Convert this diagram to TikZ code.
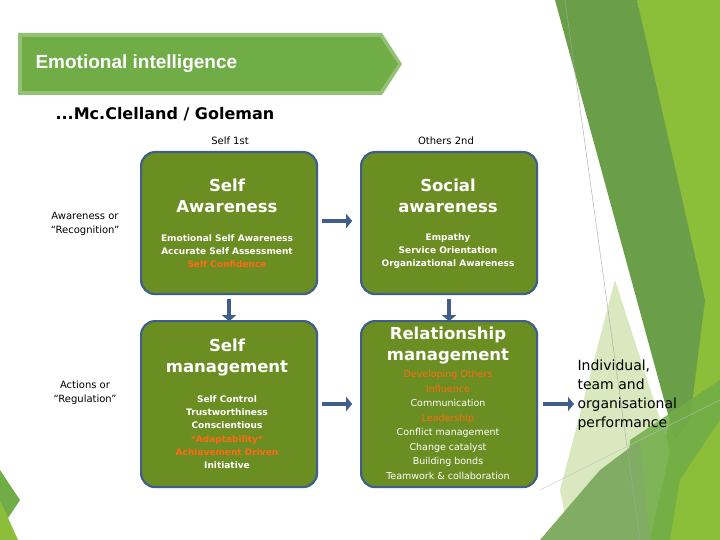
\documentclass[tikz,border=0pt]{standalone}
\usepackage{fontspec}
\setmainfont{DejaVu Sans}
\newfontfamily\arialf{Liberation Sans}
\usetikzlibrary{arrows.meta}
\definecolor{boxg}{HTML}{6B8E23}
\definecolor{boxb}{HTML}{3F5F8A}
\definecolor{orng}{HTML}{FF6A13}
\definecolor{bang}{HTML}{70AD47}
\definecolor{dkg}{HTML}{6A9E48}
\definecolor{ltg}{HTML}{8DBE3A}
\definecolor{plg}{HTML}{D5E6B8}
\tikzset{
 card/.style={draw=boxb,line width=2.2pt,fill=boxg,rounded corners=14pt,minimum width=176pt,minimum height=142pt,anchor=north west},
 ttl/.style={text=white,font=\bfseries\fontsize{16.5}{21}\selectfont,align=center},
 itm/.style={text=white,font=\bfseries\fontsize{9}{13.3}\selectfont,align=center},
 itl/.style={text=white,font=\fontsize{9.5}{14.5}\selectfont,align=center},
 flow/.style={-{Triangle[length=6pt,width=14pt]},line width=4pt,draw=boxb},
 lab/.style={font=\fontsize{10}{14}\selectfont,align=center}
}
\begin{document}
\begin{tikzpicture}[x=1pt,y=-1pt]
\useasboundingbox (0,0) rectangle (720,540);
\fill[white] (0,0) rectangle (720,540);
% right decorations
\fill[ltg] (637,0) -- (720,0) -- (720,540) -- (640,540) -- (700,300) -- cycle;
\fill[dkg] (555,0) -- (637,0) -- (705,300) -- (690,420) -- (675,440) -- cycle;
\fill[plg,opacity=0.9] (615,280) -- (670,450) -- (650,540) -- (570,540) -- (560,490) -- cycle;
\fill[bang,opacity=0.85] (630,440) -- (720,380) -- (720,540) -- (620,540) -- cycle;
\fill[ltg] (680,480) -- (720,420) -- (720,540) -- (670,540) -- cycle;
\fill[dkg!85!white] (540,540) -- (600,470) -- (640,440) -- (650,540) -- cycle;
\draw[gray!70,line width=0.4pt] (565,0) -- (640,540);
\draw[gray!50,line width=0.4pt] (540,490) -- (720,400);
% bottom-left decorations
\fill[bang] (0,470) -- (20,500) -- (0,530) -- cycle;
\fill[ltg] (0,500) -- (18,540) -- (0,540) -- cycle;
% banner
\fill[bang!75!white] (18,33) -- (382,33) -- (402,64) -- (382,95) -- (18,95) -- cycle;
\fill[bang] (22,37) -- (380,37) -- (398,64) -- (380,91) -- (22,91) -- cycle;
\node[anchor=west,text=white,font=\arialf\bfseries\fontsize{19}{22}\selectfont] (title) at (32,64) {Emotional intelligence};
\node[anchor=west,font=\bfseries\fontsize{16}{19}\selectfont] (auth) at (52,114) {...Mc.Clelland / Goleman};
% headers
\node[lab] (h1) at (230,141) {Self 1st};
\node[lab] (h2) at (446,141) {Others 2nd};
% left labels
\node[lab] (l1) at (85,224) {Awareness or\\“Recognition”};
\node[lab] (l2) at (85,393) {Actions or\\“Regulation”};
% boxes
\node[card] (sa) at (140,151) {};
\node[card] (so) at (360,151) {};
\node[card,minimum height=166pt] (sm) at (140,320) {};
\node[card,minimum height=166pt] (rm) at (360,320) {};
\node[ttl] (sat) at (227,196) {Self\\Awareness};
\node[itm] (sai) at (227,251) {Emotional Self Awareness\\Accurate Self Assessment\\\textcolor{orng}{Self Confidence}};
\node[ttl] (sot) at (448,196) {Social\\awareness};
\node[itm] (soi) at (448,251) {Empathy\\Service Orientation\\Organizational Awareness};
\node[ttl] (smt) at (227,358) {Self\\management};
\node[itm] (smi) at (227,432) {Self Control\\Trustworthiness\\Conscientious\\\textcolor{orng}{*Adaptability*}\\\textcolor{orng}{Achievement Driven}\\Initiative};
\node[ttl] (rmt) at (448,346) {Relationship\\management};
\node[itl] (rmi) at (448,425) {\textcolor{orng}{Developing Others}\\\textcolor{orng}{Influence}\\Communication\\\textcolor{orng}{Leadership}\\Conflict management\\Change catalyst\\Building bonds\\Teamwork \& collaboration};
% result
\node[anchor=west,align=left,font=\fontsize{14}{19}\selectfont] (res) at (574,395) {Individual,\\team and\\organisational\\performance};
% arrows
\draw[flow] (sa.east|-0,221) ++(4,0) -- ++(30,0);
\draw[flow] (sm.east|-0,404) ++(4,0) -- ++(30,0);
\draw[flow] (sa.south) ++(0,4) -- ++(0,22);
\draw[flow] (so.south) ++(0,4) -- ++(0,22);
\draw[flow] (rm.east|-0,404) ++(5,0) -- (res.west|-0,404);
\end{tikzpicture}
\end{document}
